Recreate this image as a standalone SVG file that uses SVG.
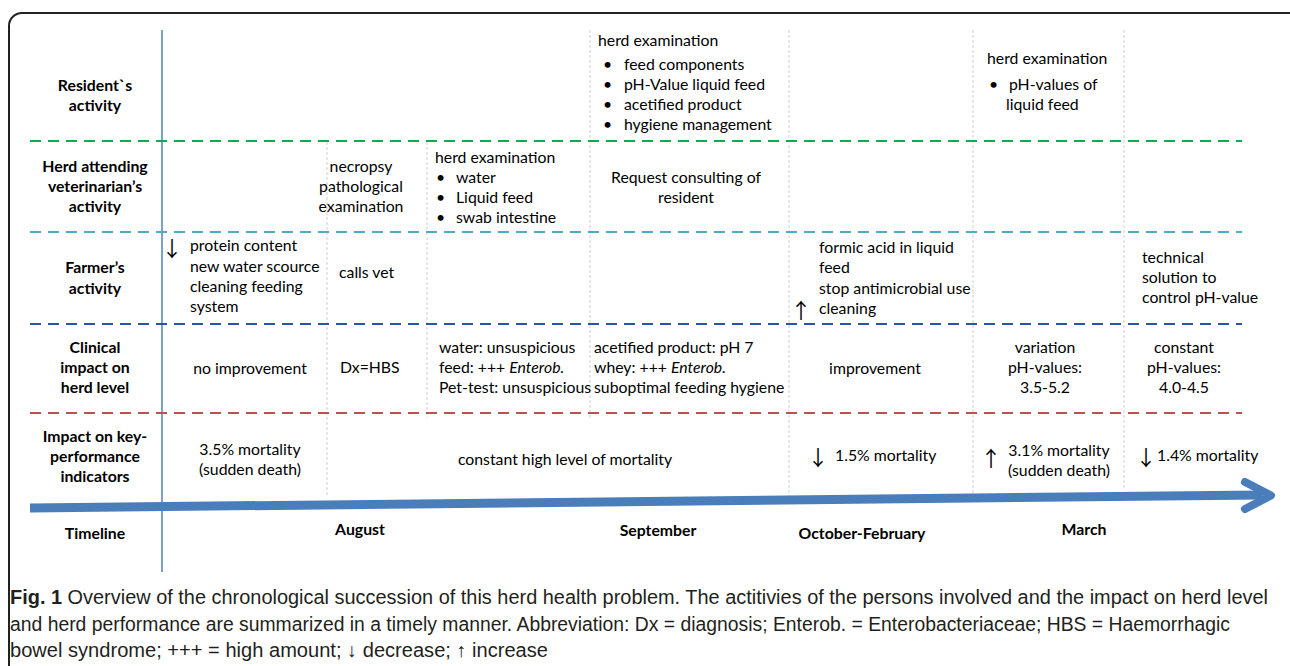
<svg xmlns="http://www.w3.org/2000/svg" width="1290" height="666" viewBox="0 0 1290 666">
<style>
.t{font-family:Lato,"Liberation Sans",sans-serif;font-size:15.8px;fill:#000}
.b{font-family:Lato,"Liberation Sans",sans-serif;font-size:15.8px;font-weight:bold;fill:#000}
.m{text-anchor:middle}
.i{font-style:italic}
.ar{font-family:"Noto Sans CJK JP",sans-serif;font-size:21px;fill:#000;text-anchor:middle}
.cap{font-family:"Liberation Sans",sans-serif;font-size:19.5px;fill:#231f20}
.gv{stroke:#cfcfcf;stroke-width:1;stroke-dasharray:3 2;fill:none}
.hd{stroke-width:2;stroke-dasharray:11 7;fill:none}
</style>
<rect x="0" y="0" width="1290" height="666" fill="#fff"/>
<rect id="frame" x="9" y="13" width="1300" height="700" rx="13" ry="13" fill="none" stroke="#222" stroke-width="2"/>
<g id="grid">
<line x1="162" y1="30" x2="162" y2="572" stroke="#4f81bd" stroke-width="1.5"/>
<line class="gv" x1="327" y1="142" x2="327" y2="497"/>
<line class="gv" x1="427" y1="142" x2="427" y2="418"/>
<line class="gv" x1="590" y1="30" x2="590" y2="418"/>
<line class="gv" x1="789" y1="30" x2="789" y2="496"/>
<line class="gv" x1="973" y1="30" x2="973" y2="500"/>
<line class="gv" x1="1124" y1="30" x2="1124" y2="490"/>
<line class="hd" x1="30" y1="141" x2="1242" y2="141" stroke="#00b050"/>
<line class="hd" x1="30" y1="232" x2="1242" y2="232" stroke="#4bacc6"/>
<line class="hd" x1="30" y1="324" x2="1242" y2="324" stroke="#2856a3"/>
<line class="hd" x1="30" y1="413" x2="1242" y2="413" stroke="#c0504d"/>
</g>
<g id="connectors">
<line x1="30" y1="508" x2="1262" y2="495" stroke="#4a7ebb" stroke-width="9"/>
<polyline points="1245,482 1271,495.5 1245,509" fill="none" stroke="#4a7ebb" stroke-width="8" stroke-linecap="round" stroke-linejoin="round"/>
</g>
<g id="labels">
<text class="b m" x="95" y="91">Resident`s</text>
<text class="b m" x="95" y="111">activity</text>
<text class="b m" x="95" y="172">Herd attending</text>
<text class="b m" x="95" y="192">veterinarian’s</text>
<text class="b m" x="95" y="212">activity</text>
<text class="b m" x="95" y="273">Farmer’s</text>
<text class="b m" x="95" y="294">activity</text>
<text class="b m" x="95" y="353">Clinical</text>
<text class="b m" x="95" y="373">impact on</text>
<text class="b m" x="95" y="393">herd level</text>
<text class="b m" x="95" y="442">Impact on key-</text>
<text class="b m" x="95" y="462">performance</text>
<text class="b m" x="95" y="482">indicators</text>
<text class="b m" x="95" y="539">Timeline</text>
</g>
<g id="resident-sep">
<text class="t" x="598" y="46">herd examination</text>
<text class="t" x="603" y="70">•</text><text class="t" x="624" y="70">feed components</text>
<text class="t" x="603" y="90">•</text><text class="t" x="624" y="90">pH-Value liquid feed</text>
<text class="t" x="603" y="110">•</text><text class="t" x="624" y="110">acetified product</text>
<text class="t" x="603" y="130">•</text><text class="t" x="624" y="130">hygiene management</text>
</g>
<g id="resident-mar">
<text class="t" x="987" y="64">herd examination</text>
<text class="t" x="989" y="90">•</text><text class="t" x="1009" y="90">pH-values of</text>
<text class="t" x="1006" y="110">liquid feed</text>
</g>
<g id="vet-necropsy">
<text class="t m" x="361" y="172">necropsy</text>
<text class="t m" x="361" y="192">pathological</text>
<text class="t m" x="361" y="212">examination</text>
</g>
<g id="vet-exam">
<text class="t" x="435" y="163">herd examination</text>
<text class="t" x="436" y="183">•</text><text class="t" x="456" y="183">water</text>
<text class="t" x="436" y="203">•</text><text class="t" x="456" y="203">Liquid feed</text>
<text class="t" x="436" y="223">•</text><text class="t" x="456" y="223">swab intestine</text>
</g>
<g id="vet-request">
<text class="t m" x="686" y="183">Request consulting of</text>
<text class="t m" x="686" y="203">resident</text>
</g>
<g id="farmer-aug1">
<text class="ar" x="172" y="256">↓</text>
<text class="t" x="190" y="251">protein content</text>
<text class="t" x="190" y="272">new water scource</text>
<text class="t" x="190" y="292">cleaning feeding</text>
<text class="t" x="190" y="312">system</text>
</g>
<g id="farmer-calls">
<text class="t" x="339" y="278">calls vet</text>
</g>
<g id="farmer-oct">
<text class="t" x="819" y="253">formic acid in liquid</text>
<text class="t" x="819" y="273">feed</text>
<text class="t" x="819" y="294">stop antimicrobial use</text>
<text class="t" x="819" y="314">cleaning</text>
<text class="ar" x="801" y="318">↑</text>
</g>
<g id="farmer-mar">
<text class="t" x="1142" y="263">technical</text>
<text class="t" x="1142" y="283">solution to</text>
<text class="t" x="1142" y="303">control pH-value</text>
</g>
<g id="clin-1">
<text class="t m" x="250" y="374">no improvement</text>
</g>
<g id="clin-2">
<text class="t" x="340" y="373">Dx=HBS</text>
</g>
<g id="clin-3">
<text class="t" x="439" y="353">water: unsuspicious</text>
<text class="t" x="439" y="373">feed: +++ <tspan class="i">Enterob.</tspan></text>
<text class="t" x="439" y="393">Pet-test: unsuspicious</text>
</g>
<g id="clin-4">
<text class="t" x="594" y="353">acetified product: pH 7</text>
<text class="t" x="594" y="373">whey: +++ <tspan class="i">Enterob.</tspan></text>
<text class="t" x="594" y="393">suboptimal feeding hygiene</text>
</g>
<g id="clin-5">
<text class="t m" x="875" y="374">improvement</text>
</g>
<g id="clin-6">
<text class="t m" x="1045" y="353">variation</text>
<text class="t m" x="1045" y="373">pH-values:</text>
<text class="t m" x="1045" y="393">3.5-5.2</text>
</g>
<g id="clin-7">
<text class="t m" x="1184" y="353">constant</text>
<text class="t m" x="1184" y="373">pH-values:</text>
<text class="t m" x="1184" y="393">4.0-4.5</text>
</g>
<g id="kpi-1">
<text class="t m" x="250" y="455">3.5% mortality</text>
<text class="t m" x="250" y="475">(sudden death)</text>
</g>
<g id="kpi-2">
<text class="t m" x="565" y="465">constant high level of mortality</text>
</g>
<g id="kpi-3">
<text class="ar" x="818" y="465">↓</text>
<text class="t" x="835" y="461">1.5% mortality</text>
</g>
<g id="kpi-4">
<text class="ar" x="991" y="466">↑</text>
<text class="t m" x="1059" y="456">3.1% mortality</text>
<text class="t m" x="1059" y="476">(sudden death)</text>
</g>
<g id="kpi-5">
<text class="ar" x="1146" y="465">↓</text>
<text class="t" x="1157" y="461">1.4% mortality</text>
</g>
<g id="months">
<text class="b m" x="360" y="535">August</text>
<text class="b m" x="658" y="536">September</text>
<text class="b m" x="862" y="539">October-February</text>
<text class="b m" x="1084" y="535">March</text>
</g>
<g id="caption">
<text class="cap" x="10" y="604" textLength="1258" lengthAdjust="spacingAndGlyphs"><tspan font-weight="bold">Fig. 1</tspan> Overview of the chronological succession of this herd health problem. The actitivies of the persons involved and the impact on herd level</text>
<text class="cap" x="10" y="631" textLength="1220" lengthAdjust="spacingAndGlyphs">and herd performance are summarized in a timely manner. Abbreviation: Dx = diagnosis; Enterob. = Enterobacteriaceae; HBS = Haemorrhagic</text>
<text class="cap" x="10" y="657" textLength="538" lengthAdjust="spacingAndGlyphs">bowel syndrome; +++ = high amount; ↓ decrease; ↑ increase</text>
</g>
</svg>
